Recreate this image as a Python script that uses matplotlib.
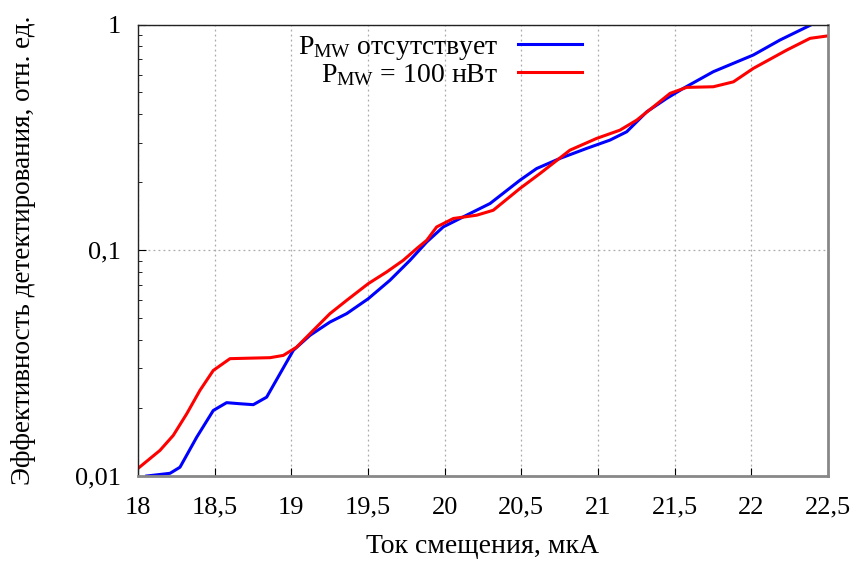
import numpy as np
import matplotlib
matplotlib.use("Agg")
import matplotlib.pyplot as plt
from matplotlib.ticker import FixedLocator, FuncFormatter, LogLocator, NullFormatter

plt.rcParams['font.family'] = ['Liberation Serif', 'DejaVu Serif']
plt.rcParams['mathtext.fontset'] = 'custom'
plt.rcParams['mathtext.rm'] = 'Liberation Serif'

# Blue: no microwave power
x_off = [18.057, 18.209, 18.274, 18.383, 18.491, 18.578, 18.665, 18.752, 18.839,
         18.926, 19.013, 19.122, 19.252, 19.361, 19.502, 19.643, 19.774, 19.883,
         19.991, 20.165, 20.296, 20.491, 20.600, 20.752, 20.926, 21.078, 21.187,
         21.318, 21.448, 21.556, 21.752, 22.013, 22.187, 22.394]
y_off = [0.0100, 0.01028, 0.01094, 0.01486, 0.01951, 0.02113, 0.02090, 0.02070, 0.02235,
         0.02838, 0.03603, 0.04200, 0.04808, 0.05240, 0.06103, 0.07362, 0.09028, 0.1088,
         0.1269, 0.1455, 0.1611, 0.2043, 0.2302, 0.2552, 0.2826, 0.3076, 0.3348,
         0.4106, 0.4707, 0.5212, 0.6180, 0.7328, 0.8538, 1.0]

# Red: P_MW = 100 nW
x_on = [18.002, 18.143, 18.230, 18.318, 18.404, 18.491, 18.600, 18.730, 18.861,
        18.948, 19.035, 19.122, 19.252, 19.361, 19.502, 19.622, 19.730, 19.818,
        19.883, 19.948, 20.057, 20.209, 20.317, 20.491, 20.622, 20.817, 20.991,
        21.143, 21.252, 21.361, 21.470, 21.578, 21.752, 21.883, 22.013, 22.231,
        22.383, 22.491]
y_on = [0.01083, 0.01298, 0.01513, 0.01887, 0.02395, 0.02935, 0.03310, 0.03327, 0.03343,
        0.03422, 0.03725, 0.04273, 0.05240, 0.06000, 0.07117, 0.08016, 0.09028, 0.1018,
        0.1107, 0.1269, 0.1383, 0.1430, 0.1504, 0.1878, 0.2188, 0.2776, 0.3129,
        0.3404, 0.3769, 0.4318, 0.4955, 0.5266, 0.5300, 0.5573, 0.6393, 0.7705,
        0.8685, 0.8890]

x_ticks = [18, 18.5, 19, 19.5, 20, 20.5, 21, 21.5, 22, 22.5]
y_ticks = [0.01, 0.1, 1]

fig = plt.figure(figsize=(8.56, 5.61), dpi=100)
ax = fig.add_axes([0.1612, 0.1515, 0.8061, 0.8048])

ax.plot(x_off, y_off, color='#0000ff', lw=2.2, label=r'$\mathregular{P_{MW}}$ отсутствует')
ax.plot(x_on, y_on, color='#ff0000', lw=2.2, label=r'$\mathregular{P_{MW}}$ = 100 нВт')

ax.set_yscale('log')
ax.set_xlim(18, 22.5)
ax.set_ylim(0.01, 1)

def comma(v, pos):
    return f"{v:g}".replace('.', ',')

ax.xaxis.set_major_locator(FixedLocator(x_ticks))
ax.xaxis.set_major_formatter(FuncFormatter(comma))
ax.yaxis.set_major_locator(FixedLocator(y_ticks))
ax.yaxis.set_major_formatter(FuncFormatter(comma))
ax.yaxis.set_minor_locator(LogLocator(base=10, subs=np.arange(2, 10)))
ax.yaxis.set_minor_formatter(NullFormatter())

ax.tick_params(axis='both', which='both', direction='in', labelsize=19,
               top=False, right=False)
ax.tick_params(axis='x', which='major', length=6, pad=15)
ax.tick_params(axis='y', which='major', length=6, pad=12)
ax.tick_params(axis='y', which='minor', length=3)

ax.grid(True, which='major', color='#aaaaaa', linestyle=(0, (1.5, 2.5)), lw=0.9)

ax.spines['left'].set_color('#222222')
ax.spines['top'].set_color('#222222')
ax.spines['left'].set_linewidth(1.0)
ax.spines['top'].set_linewidth(1.0)
ax.spines['bottom'].set_color('#888888')
ax.spines['right'].set_color('#888888')
ax.spines['bottom'].set_linewidth(2.0)
ax.spines['right'].set_linewidth(2.0)

ax.set_xlabel('Ток смещения, мкА', fontsize=20, labelpad=11)
ax.set_ylabel('Эффективность детектирования, отн. ед.', fontsize=19.5, labelpad=28)

ax.legend(loc='upper right', bbox_to_anchor=(0.667, 1.016), frameon=False,
          markerfirst=False, fontsize=20, handlelength=2.3, handletextpad=0.7,
          labelspacing=0.0, borderaxespad=0.2)

fig.savefig('out.png', dpi=100)
plt.close(fig)
